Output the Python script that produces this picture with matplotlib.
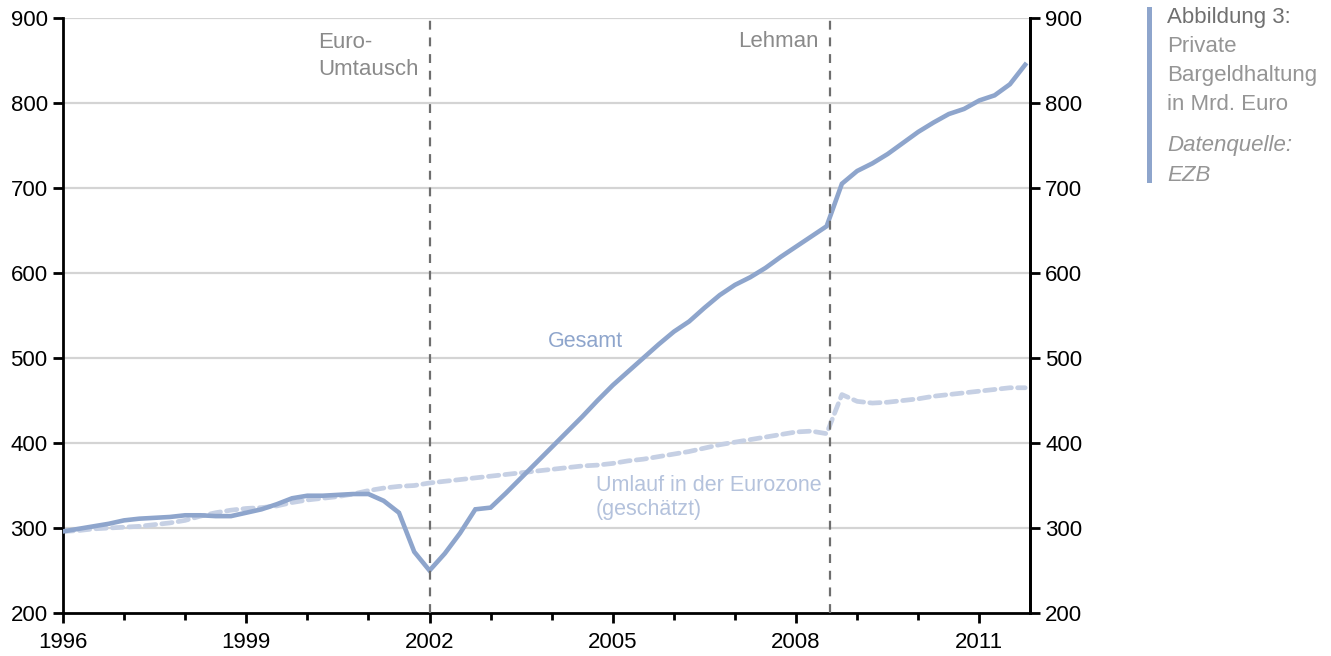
import numpy as np
import matplotlib
matplotlib.use("Agg")
import matplotlib.pyplot as plt
from matplotlib.ticker import MultipleLocator

plt.rcParams['font.family'] = ['Liberation Sans', 'DejaVu Sans']

# quarterly data, Mrd. Euro
quarters = np.arange(1996.0, 2012.0, 0.25)
gesamt = [296, 299, 302, 305, 309, 311, 312, 313,
          315, 315, 314, 314, 318, 322, 328, 335,
          338, 338, 339, 340, 340, 332, 318, 272,
          250, 270, 294, 322, 324, 341, 359, 377,
          395, 413, 431, 450, 468, 484, 500, 516,
          531, 543, 559, 574, 586, 595, 606, 619,
          631, 643, 655, 705, 720, 729, 740, 753,
          766, 777, 787, 793, 803, 809, 822, 845]
umlauf = [296, 297, 299, 300, 301, 302, 304, 306,
          309, 314, 318, 321, 323, 324, 326, 330,
          333, 335, 337, 340, 344, 347, 349, 350,
          353, 355, 357, 359, 361, 363, 365, 367,
          369, 371, 373, 374, 376, 379, 381, 384,
          387, 390, 394, 398, 401, 404, 407, 410,
          413, 414, 411, 457, 449, 447, 448, 450,
          452, 455, 457, 459, 461, 463, 465, 465]
events = [2002.0, 2008.55]
event_labels = ["Euro-\nUmtausch", "Lehman"]
year_ticks = [1996, 1999, 2002, 2005, 2008, 2011]

c_main = '#8ea5cc'
c_dash = '#c6d0e4'
c_grey = '#8a8a8a'
fs = 16

fig = plt.figure(figsize=(13.31, 6.56), dpi=100)
ax = fig.add_axes([0.0473, 0.0655, 0.7266, 0.9071])

ax.set_xlim(1996, 2011.83)
ax.set_ylim(200, 900)
for v in range(300, 901, 100):
    ax.axhline(v, color='#d4d4d4', lw=1.6, zorder=0)

ax.plot(quarters, umlauf, color=c_dash, lw=3.4, ls=(0, (2.2, 1.3)),
        solid_capstyle='round', dash_capstyle='round', zorder=2)
ax.plot(quarters, gesamt, color=c_main, lw=3.3, zorder=3,
        solid_joinstyle='miter')

for xe in events:
    ax.axvline(xe, color='#6e6e6e', lw=1.6, ls=(0, (4, 3.5)), zorder=4)

ax.text(2001.82, 883, event_labels[0], ha='right', va='top', fontsize=fs,
        color=c_grey, linespacing=1.35, multialignment='left')
ax.text(2008.37, 872, event_labels[1], ha='right', va='center', fontsize=fs,
        color=c_grey)
ax.text(2003.94, 520, "Gesamt", ha='left', va='center', fontsize=15.5,
        color=c_main)
ax.text(2004.72, 336, "Umlauf in der Eurozone\n(geschätzt)", ha='left',
        va='center', fontsize=15.5, color='#b4c2dc', linespacing=1.15)

ax.spines['top'].set_visible(False)
for s in ['left', 'right', 'bottom']:
    ax.spines[s].set_linewidth(2)

ax.set_xticks(year_ticks)
ax.set_xticklabels([str(y) for y in year_ticks])
ax.xaxis.set_minor_locator(MultipleLocator(1))
ax.set_yticks(range(200, 901, 100))
ax.tick_params(axis='both', which='major', direction='out', length=7,
               width=2, labelsize=fs, colors='black', pad=4)
ax.tick_params(axis='x', which='minor', direction='out', length=5, width=2)
ax.tick_params(axis='x', pad=7)

ax2 = ax.twinx()
ax2.set_ylim(200, 900)
ax2.set_yticks(range(200, 901, 100))
ax2.tick_params(axis='y', direction='out', length=7, width=2,
                labelsize=fs, pad=4)
for s in ['top', 'left', 'bottom']:
    ax2.spines[s].set_visible(False)
ax2.spines['right'].set_linewidth(2)

# side caption
fig.add_artist(plt.Rectangle((1147 / 1331, 1 - 183 / 656), 5 / 1331, 176 / 656,
                             transform=fig.transFigure, color=c_main, lw=0))
x0 = 1167 / 1331
fig.text(x0, 1 - 17 / 656, "Abbildung 3:", fontsize=fs, color='#707070',
         va='center', ha='left')
for i, line in enumerate(["Private", "Bargeldhaltung", "in Mrd. Euro"]):
    fig.text(x0, 1 - (47 + 29 * i) / 656, line, fontsize=fs, color='#959595',
             va='center', ha='left')
fig.text(x0, 1 - 146 / 656, "Datenquelle:", fontsize=fs, color='#959595',
         va='center', ha='left', style='italic')
fig.text(x0, 1 - 175 / 656, "EZB", fontsize=fs, color='#959595',
         va='center', ha='left', style='italic')

fig.savefig('out.png', dpi=100)
